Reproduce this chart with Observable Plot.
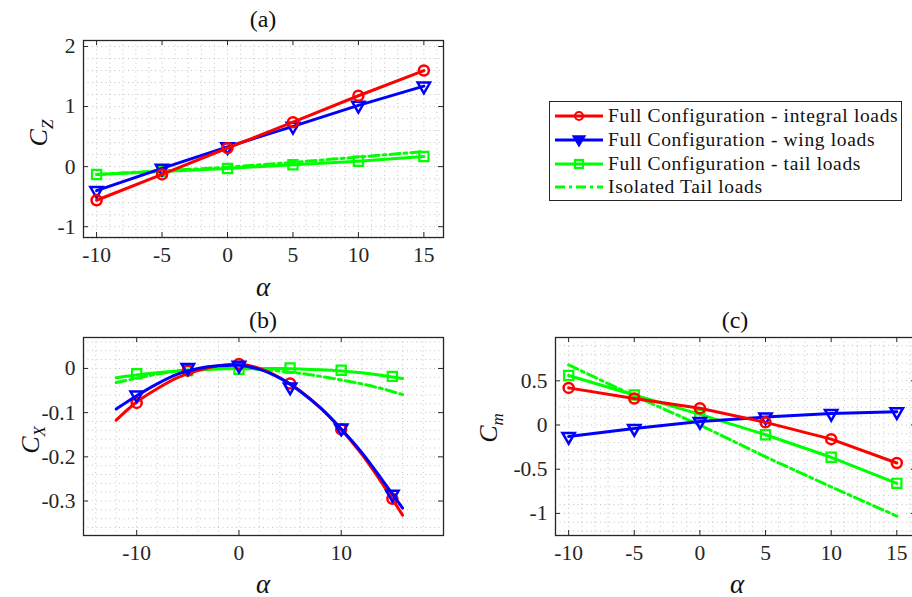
<!DOCTYPE html>
<html>
<head>
<meta charset="utf-8">
<script src="https://cdn.jsdelivr.net/npm/d3@7"></script>
<script src="https://cdn.jsdelivr.net/npm/@observablehq/plot@0.6"></script>
<style>
  html, body { margin: 0; padding: 0; background: #fff; }
  body { width: 912px; height: 597px; position: relative; overflow: hidden;
         font-family: "Liberation Serif", "Times New Roman", serif; color: #111; }
  .abs { position: absolute; }
  .title { font-size: 24px; transform: translate(-50%, -50%); white-space: nowrap; }
  .xlab { font-size: 27px; font-style: italic; transform: translate(-50%, -50%); }
  .ylab { font-size: 26px; transform: translate(-50%, -50%) rotate(-90deg); white-space: nowrap; }
  .ylab sub { font-size: 17px; vertical-align: -6px; }
  #legend { left: 549px; top: 101px; width: 353px; height: 100px; border: 1px solid #262626;
            background: #fff; box-sizing: border-box; }
  .lrow { position: absolute; left: 5px; height: 24px; display: flex; align-items: center; }
  .lrow span { font-size: 19.5px; letter-spacing: 0.65px; margin-left: 5px; white-space: nowrap; }
</style>
</head>
<body>
<script>
// ---------------- data ----------------
const alpha = [-10, -5, 0, 5, 10, 15];

// (a) C_Z
const czIntegral = [-0.56, -0.13, 0.31, 0.74, 1.18, 1.60];
const czWing     = [-0.40, -0.03, 0.33, 0.67, 1.02, 1.34];
const czTail     = [-0.13, -0.08, -0.03, 0.03, 0.09, 0.17];
const czIsolated = [-0.13, -0.07, -0.01, 0.07, 0.16, 0.25];

// (b) C_X markers
const cxIntegral = [-0.078, -0.005, 0.010, -0.034, -0.138, -0.295];
const cxWing     = [-0.060, 0.002, 0.007, -0.042, -0.135, -0.285];
const cxTail     = [-0.012, -0.005, -0.002, 0.001, -0.004, -0.018];
// (b) C_X fitted curves
const alphaFit      = [-12, -10, -8, -6, -4, -2, 0, 2, 4, 6, 8, 10, 12, 14, 16];
const cxIntegralFit = [-0.117, -0.076, -0.046, -0.021, -0.005, 0.006, 0.010, 0.000, -0.021, -0.051, -0.090, -0.138, -0.194, -0.260, -0.332];
const cxWingFit     = [-0.092, -0.062, -0.035, -0.013, 0.000, 0.006, 0.007, -0.002, -0.022, -0.052, -0.090, -0.137, -0.190, -0.252, -0.316];
const cxTailFit     = [-0.021, -0.015, -0.010, -0.006, -0.003, -0.001, 0.000, 0.000, 0.000, -0.001, -0.003, -0.006, -0.010, -0.016, -0.023];
const cxIsolatedFit = [-0.032, -0.022, -0.013, -0.006, -0.002, 0.000, 0.000, -0.002, -0.006, -0.011, -0.018, -0.026, -0.035, -0.046, -0.059];

// (c) C_m
const cmIntegral = [0.42, 0.30, 0.19, 0.03, -0.16, -0.43];
const cmWing     = [-0.13, -0.04, 0.04, 0.09, 0.13, 0.15];
const cmTail     = [0.56, 0.34, 0.12, -0.11, -0.365, -0.66];
const cmIsolated = [0.68, 0.33, 0.00, -0.36, -0.70, -1.03];

// ticks
const ticksA_x = [-10, -5, 0, 5, 10, 15];
const ticksA_y = [-1, 0, 1, 2];
const ticksB_x = [-10, 0, 10];
const ticksB_y = [-0.3, -0.2, -0.1, 0];
const ticksC_x = [-10, -5, 0, 5, 10, 15];
const ticksC_y = [-1, -0.5, 0, 0.5];

const seriesNames = [
  "Full Configuration - integral loads",
  "Full Configuration - wing loads",
  "Full Configuration - tail loads",
  "Isolated Tail loads"
];

// ---------------- styles ----------------
const RED = "#ff0000", BLUE = "#0000ff", GREEN = "#00ff00";
const FONT = '"Liberation Serif", "Times New Roman", serif';
const DASHDOT = "10,4,3,4";
const LW = 3;

const pts = (xs, ys) => xs.map((x, i) => ({x, y: ys[i]}));

function markerMarks(data, kind, color) {
  if (kind === "circle") return Plot.dot(data, {x: "x", y: "y", symbol: "circle", r: 5, stroke: color, strokeWidth: 2.5, fill: "none"});
  if (kind === "tri") return Plot.dot(data, {x: "x", y: "y", symbol: "triangle", r: 4.6, rotate: 180, stroke: color, strokeWidth: 2.5, fill: "none"});
  return Plot.dot(data, {x: "x", y: "y", symbol: "square", r: 5.2, stroke: color, strokeWidth: 2.2, fill: "none"});
}

function panel(cfg) {
  const fw = cfg.width - cfg.mL - cfg.mR;
  const fh = cfg.height - cfg.mT - cfg.mB;
  const tl = 5;
  const edge = "#262626";
  const gridStyle = {stroke: "#c4c4c4", strokeOpacity: 1, strokeWidth: 1, strokeDasharray: "1,3.5"};
  const p = Plot.plot({
    width: cfg.width, height: cfg.height,
    marginLeft: cfg.mL, marginRight: cfg.mR, marginTop: cfg.mT, marginBottom: cfg.mB,
    style: {fontFamily: FONT, fontSize: "21.5px", color: "#262626", background: "transparent", overflow: "visible", maxWidth: "none"},
    x: {domain: cfg.xDomain},
    y: {domain: cfg.yDomain},
    marks: [
      Plot.gridX(cfg.xGrid, gridStyle),
      Plot.gridY(cfg.yGrid, gridStyle),
      ...cfg.marks,
      Plot.frame({stroke: edge, strokeWidth: 1.3}),
      Plot.tickX(cfg.xTicks, {x: d => d, stroke: edge, insetTop: fh - tl}),
      Plot.tickX(cfg.xTicks, {x: d => d, stroke: edge, insetBottom: fh - tl}),
      Plot.tickY(cfg.yTicks, {y: d => d, stroke: edge, insetRight: fw - tl}),
      Plot.tickY(cfg.yTicks, {y: d => d, stroke: edge, insetLeft: fw - tl}),
      Plot.axisX(cfg.xTicks, {tickSize: 0, tickPadding: 9, tickFormat: d => String(d), label: null, fontSize: 21.5, fill: "#262626"}),
      Plot.axisY(cfg.yTicks, {tickSize: 0, tickPadding: 8, tickFormat: d => String(d), label: null, fontSize: 21.5, fill: "#262626"})
    ]
  });
  const wrap = document.createElement("div");
  wrap.className = "abs";
  wrap.style.left = cfg.left + "px";
  wrap.style.top = cfg.top + "px";
  wrap.style.width = cfg.width + "px";
  wrap.style.height = cfg.height + "px";
  wrap.appendChild(p);
  document.body.appendChild(wrap);
}

function addText(cls, x, y, html) {
  const d = document.createElement("div");
  d.className = "abs " + cls;
  d.style.left = x + "px";
  d.style.top = y + "px";
  d.innerHTML = html;
  document.body.appendChild(d);
}

// ---------------- panel (a) ----------------
panel({
  left: 0, top: 0, width: 460, height: 300, mL: 83, mR: 17, mT: 40, mB: 63,
  xDomain: [-11, 16.5], yDomain: [-1.18, 2.1],
  xTicks: ticksA_x, yTicks: ticksA_y,
  xGrid: d3.range(-11, 17, 1), yGrid: d3.range(-1.2, 2.01, 0.2).map(v => +v.toFixed(2)),
  marks: [
    Plot.line(pts(alpha, czIsolated), {x: "x", y: "y", stroke: GREEN, strokeWidth: LW, strokeDasharray: DASHDOT}),
    Plot.line(pts(alpha, czTail), {x: "x", y: "y", stroke: GREEN, strokeWidth: LW}),
    markerMarks(pts(alpha, czTail), "square", GREEN),
    Plot.line(pts(alpha, czWing), {x: "x", y: "y", stroke: BLUE, strokeWidth: LW}),
    markerMarks(pts(alpha, czWing), "tri", BLUE),
    Plot.line(pts(alpha, czIntegral), {x: "x", y: "y", stroke: RED, strokeWidth: LW}),
    markerMarks(pts(alpha, czIntegral), "circle", RED)
  ]
});

// ---------------- panel (b) ----------------
panel({
  left: 0, top: 300, width: 460, height: 297, mL: 83, mR: 17, mT: 37, mB: 62,
  xDomain: [-15.2, 20], yDomain: [-0.378, 0.07],
  xTicks: ticksB_x, yTicks: ticksB_y,
  xGrid: d3.range(-14, 20, 2), yGrid: d3.range(-0.36, 0.07, 0.02).map(v => +v.toFixed(3)),
  marks: [
    Plot.line(pts(alphaFit, cxIsolatedFit), {x: "x", y: "y", stroke: GREEN, strokeWidth: LW, strokeDasharray: DASHDOT, curve: "catmull-rom"}),
    Plot.line(pts(alphaFit, cxTailFit), {x: "x", y: "y", stroke: GREEN, strokeWidth: LW, curve: "catmull-rom"}),
    markerMarks(pts(alpha, cxTail), "square", GREEN),
    Plot.line(pts(alphaFit, cxIntegralFit), {x: "x", y: "y", stroke: RED, strokeWidth: LW, curve: "catmull-rom"}),
    markerMarks(pts(alpha, cxIntegral), "circle", RED),
    Plot.line(pts(alphaFit, cxWingFit), {x: "x", y: "y", stroke: BLUE, strokeWidth: LW, curve: "catmull-rom"}),
    markerMarks(pts(alpha, cxWing), "tri", BLUE)
  ]
});

// ---------------- panel (c) ----------------
panel({
  left: 470, top: 300, width: 460, height: 297, mL: 85, mR: 14, mT: 37, mB: 62,
  xDomain: [-11, 16.5], yDomain: [-1.25, 0.99],
  xTicks: ticksC_x, yTicks: ticksC_y,
  xGrid: d3.range(-11, 17, 1), yGrid: d3.range(-1.2, 0.99, 0.1).map(v => +v.toFixed(2)),
  marks: [
    Plot.line(pts(alpha, cmIsolated), {x: "x", y: "y", stroke: GREEN, strokeWidth: LW, strokeDasharray: DASHDOT}),
    Plot.line(pts(alpha, cmTail), {x: "x", y: "y", stroke: GREEN, strokeWidth: LW}),
    markerMarks(pts(alpha, cmTail), "square", GREEN),
    Plot.line(pts(alpha, cmWing), {x: "x", y: "y", stroke: BLUE, strokeWidth: LW}),
    markerMarks(pts(alpha, cmWing), "tri", BLUE),
    Plot.line(pts(alpha, cmIntegral), {x: "x", y: "y", stroke: RED, strokeWidth: LW}),
    markerMarks(pts(alpha, cmIntegral), "circle", RED)
  ]
});

// ---------------- titles and axis labels ----------------
addText("title", 263, 19, "(a)");
addText("title", 263, 320, "(b)");
addText("title", 735, 320, "(c)");
addText("xlab", 263, 287, "α");
addText("xlab", 263, 584, "α");
addText("xlab", 737, 584, "α");
addText("ylab", 41, 133, "<i>C</i><sub><i>Z</i></sub>");
addText("ylab", 33, 440, "<i>C</i><sub><i>X</i></sub>");
addText("ylab", 491, 428, "<i>C</i><sub><i>m</i></sub>");

// ---------------- legend ----------------
const legend = document.createElement("div");
legend.id = "legend";
legend.className = "abs";
const kinds = [["circle", RED, false], ["tri", BLUE, false], ["square", GREEN, false], [null, GREEN, true]];
seriesNames.forEach((name, i) => {
  const [kind, color, dashed] = kinds[i];
  const row = document.createElement("div");
  row.className = "lrow";
  row.style.top = (2 + i * 23.8) + "px";
  let marker = "";
  if (kind === "circle") marker = `<circle cx="24" cy="12" r="4" fill="none" stroke="${color}" stroke-width="2.2"/>`;
  if (kind === "tri") marker = `<path d="M18,8 L30,8 L24,18 Z" fill="${color}" stroke="${color}" stroke-width="1.5"/>`;
  if (kind === "square") marker = `<rect x="20" y="8" width="8" height="8" fill="none" stroke="${color}" stroke-width="2.2"/>`;
  row.innerHTML = `<svg width="48" height="24"><line x1="0" y1="12" x2="48" y2="12" stroke="${color}" stroke-width="3" ${dashed ? `stroke-dasharray="${DASHDOT}"` : ""}/>${marker}</svg><span>${name}</span>`;
  legend.appendChild(row);
});
document.body.appendChild(legend);
</script>
</body>
</html>
